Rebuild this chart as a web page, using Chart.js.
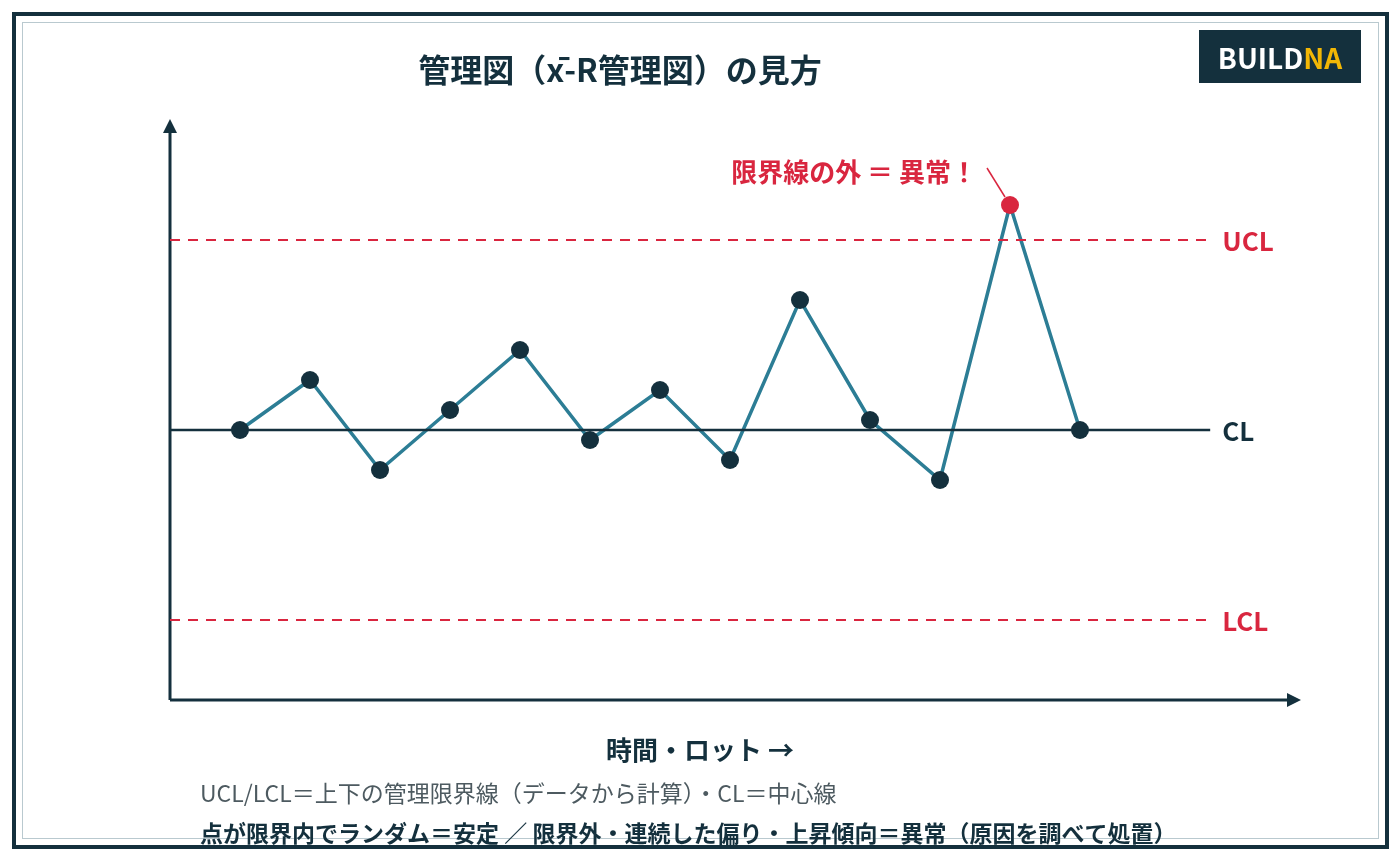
<!DOCTYPE html>
<html>
<head>
<meta charset="utf-8">
<script src="https://cdn.jsdelivr.net/npm/chart.js@4.4.1/dist/chart.umd.min.js"></script>
<style>
  html, body { margin: 0; padding: 0; background: #fff; }
  #wrap { position: relative; width: 1400px; height: 860px; }
</style>
</head>
<body>
<div id="wrap"><canvas id="qcChart" width="1400" height="860"></canvas></div>
<script>
// lot number along time axis
const lots = [0, 1, 2, 3, 4, 5, 6, 7, 8, 9, 10, 11, 12];
// sample means (CL = 0)
const means = [0, 5, -4, 2, 8, -1, 4, -3, 13, 1, -5, 22.5, 0];
const outIndex = 11;
const ucl = 19;
const cl = 0;
const lcl = -19;
const lineStart = -1;
const lineEnd = 13.86;

const dark = '#14303d';
const teal = '#2c7d95';
const red = '#d9263f';
const jp = '"Noto Sans CJK JP", "Noto Sans", sans-serif';

function hLine(v) {
    return [{ x: lineStart, y: v }, { x: lineEnd, y: v }];
}

const extras = {
    id: 'extras',
    beforeDatasetsDraw(chart) {
        const c = chart.ctx;
        const a = chart.chartArea;
        c.save();
        // frame
        c.strokeStyle = dark;
        c.lineWidth = 4;
        c.strokeRect(14, 14, 1373, 833);
        c.strokeStyle = '#b9c9cf';
        c.lineWidth = 1;
        c.strokeRect(22.5, 22.5, 1356, 816);

        // axes with arrows
        c.strokeStyle = dark;
        c.fillStyle = dark;
        c.lineWidth = 3;
        c.beginPath();
        c.moveTo(a.left, a.bottom);
        c.lineTo(a.left, a.top + 10);
        c.moveTo(a.left, a.bottom);
        c.lineTo(a.right - 10, a.bottom);
        c.stroke();
        c.beginPath();
        c.moveTo(a.left, a.top - 1);
        c.lineTo(a.left - 7, a.top + 13);
        c.lineTo(a.left + 7, a.top + 13);
        c.closePath();
        c.fill();
        c.beginPath();
        c.moveTo(a.right + 1, a.bottom);
        c.lineTo(a.right - 13, a.bottom - 7);
        c.lineTo(a.right - 13, a.bottom + 7);
        c.closePath();
        c.fill();
        c.restore();
    },
    afterDatasetsDraw(chart) {
        const c = chart.ctx;
        const xs = chart.scales.x;
        const ys = chart.scales.y;
        c.save();
        c.textBaseline = 'middle';

        // title
        c.fillStyle = dark;
        c.font = 'bold 32px ' + jp;
        c.textAlign = 'center';
        c.fillText('管理図（x̄-R管理図）の見方', 620, 70);

        // logo
        c.fillStyle = dark;
        c.fillRect(1199, 30, 162, 53);
        c.font = 'bold 28px ' + jp;
        c.textAlign = 'left';
        const w1 = c.measureText('BUILD').width;
        const w2 = c.measureText('NA').width;
        const lx = 1280 - (w1 + w2) / 2;
        c.fillStyle = '#ffffff';
        c.fillText('BUILD', lx, 58);
        c.fillStyle = '#f2b705';
        c.fillText('NA', lx + w1, 58);

        // limit labels
        c.font = 'bold 26px ' + jp;
        c.textAlign = 'left';
        const labX = xs.getPixelForValue(lineEnd) + 12;
        c.fillStyle = red;
        c.fillText('UCL', labX, ys.getPixelForValue(ucl) + 1);
        c.fillText('LCL', labX, ys.getPixelForValue(lcl) + 1);
        c.fillStyle = dark;
        c.fillText('CL', labX, ys.getPixelForValue(cl) + 1);

        // out-of-control callout
        const px = xs.getPixelForValue(lots[outIndex]);
        const py = ys.getPixelForValue(means[outIndex]);
        c.strokeStyle = red;
        c.lineWidth = 1.5;
        c.beginPath();
        c.moveTo(px - 23, py - 37);
        c.lineTo(px - 5, py - 8);
        c.stroke();
        c.fillStyle = red;
        c.textAlign = 'right';
        c.font = 'bold 26px ' + jp;
        c.fillText('限界線の外 ＝ 異常！', px - 33, py - 33);

        // x axis caption and notes
        c.fillStyle = dark;
        c.textAlign = 'center';
        c.font = 'bold 26px ' + jp;
        c.fillText('時間・ロット →', 700, 750);
        c.textAlign = 'left';
        c.fillStyle = '#4d5a60';
        c.font = '23px ' + jp;
        c.fillText('UCL/LCL＝上下の管理限界線（データから計算）・CL＝中心線', 200, 793);
        c.fillStyle = dark;
        c.font = 'bold 23px ' + jp;
        c.fillText('点が限界内でランダム＝安定 ／ 限界外・連続した偏り・上昇傾向＝異常（原因を調べて処置）', 200, 833);
        c.restore();
    }
};

const ctx = document.getElementById('qcChart').getContext('2d');
new Chart(ctx, {
    type: 'line',
    data: {
        datasets: [
            {
                label: 'UCL',
                data: hLine(ucl),
                borderColor: red,
                borderWidth: 2,
                borderDash: [10, 8],
                pointRadius: 0
            },
            {
                label: 'LCL',
                data: hLine(lcl),
                borderColor: red,
                borderWidth: 2,
                borderDash: [10, 8],
                pointRadius: 0
            },
            {
                label: 'CL',
                data: hLine(cl),
                borderColor: dark,
                borderWidth: 2.5,
                pointRadius: 0
            },
            {
                label: '平均値',
                data: lots.map((l, i) => ({ x: l, y: means[i] })),
                borderColor: teal,
                borderWidth: 3.5,
                pointRadius: 9,
                pointBorderWidth: 0,
                pointBackgroundColor: means.map((m, i) => i === outIndex ? red : dark),
                tension: 0
            }
        ]
    },
    options: {
        responsive: false,
        animation: false,
        layout: { padding: { left: 170, right: 100, top: 120, bottom: 160 } },
        plugins: {
            legend: { display: false },
            tooltip: { enabled: false }
        },
        scales: {
            x: { type: 'linear', min: -1, max: 15.143, display: false },
            y: { min: -27, max: 31, display: false }
        }
    },
    plugins: [extras]
});
</script>
</body>
</html>
